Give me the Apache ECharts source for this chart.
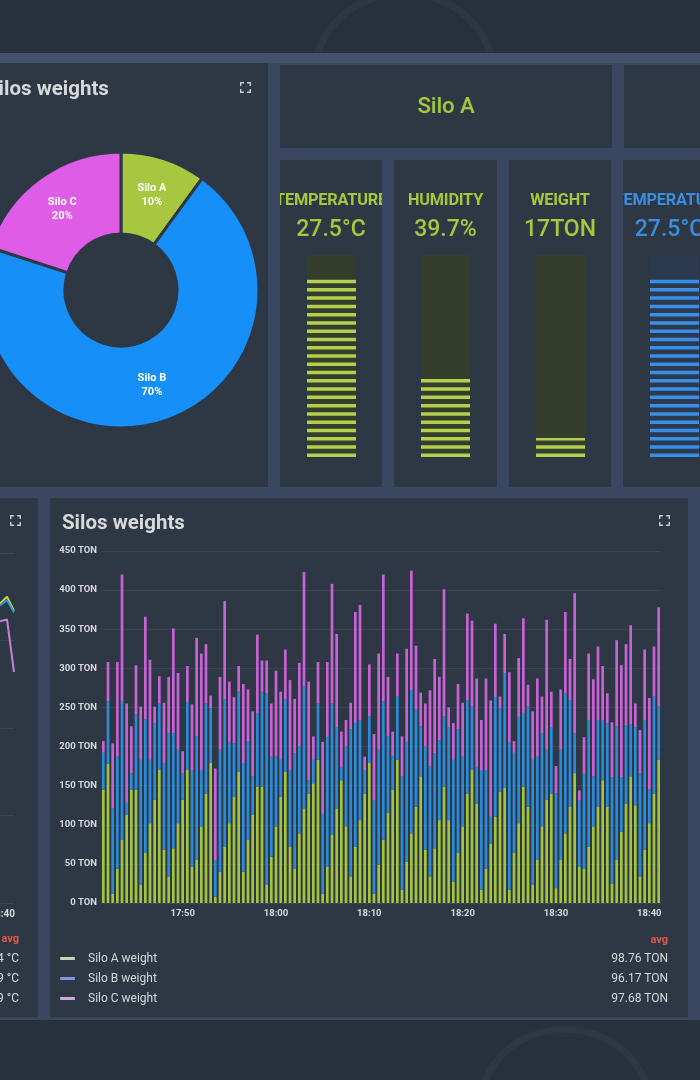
<!DOCTYPE html>
<html>
<head>
<meta charset="utf-8">
<title>Silos dashboard</title>
<script src="https://cdn.jsdelivr.net/npm/echarts@6.0.0/dist/echarts.min.js"></script>
<style>
html,body{margin:0;padding:0;}
body{width:700px;height:1080px;position:relative;overflow:hidden;background:#3a4760;font-family:Roboto,"Noto Sans",sans-serif;}
.abs{position:absolute;}
.panel{position:absolute;background:#2e3744;overflow:hidden;}
.title{position:absolute;color:#d8d9da;font-weight:bold;font-size:20.5px;white-space:nowrap;line-height:22px;}
.fs{position:absolute;width:11px;height:11px;}
.gtitle{position:absolute;left:-20px;right:-20px;top:30px;text-align:center;font-weight:bold;font-size:16.3px;white-space:nowrap;letter-spacing:-0.2px;}
.gval{position:absolute;left:-20px;right:-20px;top:55px;text-align:center;font-weight:500;font-size:23px;white-space:nowrap;}
.leg{position:absolute;font-size:12px;color:#d8d9da;white-space:nowrap;line-height:14px;}
.mark{position:absolute;width:15px;height:3px;border-radius:1px;}
.ring{position:absolute;border:7px solid rgba(255,255,255,0.03);border-radius:50%;}
</style>
</head>
<body>
<div class="abs" style="left:0;top:0;width:700px;height:53px;background:#27303d;overflow:hidden;">
  <div class="ring" style="left:312px;top:-10px;width:170px;height:150px;"></div>
</div>
<div class="abs" style="left:0;top:53px;width:700px;height:10px;background:#43516b;"></div>
<div class="abs" style="left:0;top:1020px;width:700px;height:60px;background:#28313e;overflow:hidden;">
  <div class="ring" style="left:478px;top:6px;width:160px;height:140px;"></div>
</div>

<!-- pie panel -->
<div class="panel" style="left:0;top:63px;width:268px;height:424px;">
  <div id="pie" class="abs" style="left:0;top:0;width:268px;height:424px;"></div>
  <div class="title" style="left:-14px;top:14px;">Silos weights</div>
  <svg class="fs" style="left:240px;top:19px;" viewBox="0 0 11 11"><path d="M0.7 4V0.7H4M7 0.7H10.3V4M10.3 7V10.3H7M4 10.3H0.7V7" fill="none" stroke="#c7ccd3" stroke-width="1.4"/></svg>
</div>

<!-- Silo A header -->
<div class="panel" style="left:280px;top:65px;width:332px;height:83px;">
  <div id="siloName" class="abs" style="left:0;right:0;top:28px;text-align:center;color:#a5c83e;font-size:22px;font-weight:500;"></div>
</div>
<div class="panel" style="left:624px;top:65px;width:76px;height:83px;"></div>

<!-- gauge panels -->
<div id="g0" class="panel" style="left:280px;top:160px;width:102px;height:327px;"></div>
<div id="g1" class="panel" style="left:394px;top:160px;width:103px;height:327px;"></div>
<div id="g2" class="panel" style="left:509px;top:160px;width:102px;height:327px;"></div>
<div id="g3" class="panel" style="left:623px;top:160px;width:77px;height:327px;"></div>

<!-- bottom-left fragment -->
<div class="panel" style="left:0;top:498px;width:38px;height:519px;">
  <div id="frag" class="abs" style="left:0;top:0;width:38px;height:519px;"></div>
  <svg class="fs" style="left:10px;top:17px;" viewBox="0 0 11 11"><path d="M0.7 4V0.7H4M7 0.7H10.3V4M10.3 7V10.3H7M4 10.3H0.7V7" fill="none" stroke="#c7ccd3" stroke-width="1.4"/></svg>
  <div class="leg" style="right:23px;top:409px;font-size:10px;font-weight:bold;">18:40</div>
  <div class="leg" style="right:19px;top:434px;font-size:11px;font-weight:bold;color:#e2574c;">avg</div>
  <div class="leg" style="right:19px;top:453px;">4 °C</div>
  <div class="leg" style="right:19px;top:473px;">9 °C</div>
  <div class="leg" style="right:19px;top:493px;">9 °C</div>
</div>

<!-- bottom bar chart panel -->
<div class="panel" style="left:50px;top:498px;width:638px;height:519px;">
  <div id="bars" class="abs" style="left:0;top:0;width:638px;height:519px;"></div>
  <div class="title" style="left:12px;top:13px;">Silos weights</div>
  <svg class="fs" style="left:609px;top:17px;" viewBox="0 0 11 11"><path d="M0.7 4V0.7H4M7 0.7H10.3V4M10.3 7V10.3H7M4 10.3H0.7V7" fill="none" stroke="#c7ccd3" stroke-width="1.4"/></svg>
  <div id="legend"></div>
</div>

<script>
// ---------- data ----------
const pieNames = ['Silo A', 'Silo B', 'Silo C'];
const pieValues = [10, 70, 20];
const pieColors = ['#a6c73f', '#168ff8', '#df5ce6'];

const siloTitle = 'Silo A';
const gaugeTitles = ['TEMPERATURE', 'HUMIDITY', 'WEIGHT', 'TEMPERATURE'];
const gaugeValues = [27.5, 39.7, 17, 27.5];
const gaugeUnits = ['°C', '%', 'TON', '°C'];
const gaugeMax = [31, 100, 180, 31];
const gaugeColors = ['#a5c83e', '#a5c83e', '#a5c83e', '#3a8ee0'];
const stripeColors = ['#b3d04e', '#b3d04e', '#b3d04e', '#3990e6'];
const gaugeBg = ['#333e2c', '#333e2c', '#333e2c', '#2b3a4f'];

const startTime = '17:41:30';
const stepSeconds = 30;

const siloA = [
  145,178,12,44,81,113,145,145,23,64,
  102,132,170,68,34,70,102,132,170,46,
  55,98,140,179,8,40,72,102,136,168,
  40,81,113,149,149,23,59,98,136,168,72,
  44,89,121,140,153,183,12,46,87,
  121,157,98,34,72,106,140,179,12,49,
  81,115,145,183,17,53,89,123,162,68,
  34,70,106,149,106,27,64,98,140,170,127,17,
  44,76,110,142,147,17,64,102,
  149,123,23,55,98,132,140,19,55,89,
  123,166,46,44,72,98,123,157,123,25,
  55,91,127,162,125,34,68,102,140,183
];
const siloB = [
  47,80,109,143,177,15,21,96,160,171,
  81,98,85,111,183,147,94,34,87,124,
  158,72,115,70,47,156,188,104,68,102,
  139,126,49,94,121,245,128,90,47,92,98,
  147,111,156,17,30,72,102,166,168,
  104,17,102,188,158,128,30,60,119,147,
  177,98,43,81,145,153,183,124,64,132,
  141,121,102,90,119,156,158,90,119,81,47,153,
  126,34,153,107,147,188,128,136,
  94,128,160,132,119,64,85,121,141,179,
  136,51,85,121,162,64,111,77,107,136,
  171,70,100,66,100,132,166,43,124,68
];
const siloC = [
  15,50,83,121,162,127,60,63,68,131,
  128,21,35,77,72,134,98,28,46,84,
  126,149,76,16,117,93,126,77,59,33,
  101,66,83,100,40,42,68,109,87,64,115,
  70,107,146,126,30,53,92,96,153,
  119,45,34,34,142,147,17,66,85,123,
  162,76,31,55,51,119,153,82,43,55,
  97,121,81,162,25,47,58,68,111,110,113,64,
  117,149,94,15,50,90,15,75,
  121,28,62,100,47,166,45,35,77,104,
  53,179,13,47,85,124,94,69,38,70,
  110,143,104,127,30,55,90,117,64,127
];
const seriesNames = ['Silo A weight', 'Silo B weight', 'Silo C weight'];
const barColors = ['#a2c43e', '#2c8bd8', '#c962d6'];
const legendColors = ['#c9d4b4', '#7f97dd', '#d3aadb'];
const legendAvg = ['98.76 TON', '96.17 TON', '97.68 TON'];
const yMin = 0, yMax = 450, yInterval = 50, yUnit = 'TON';

// fragment of the neighbouring temperature panel (only its right end is visible)
const fragTimes = ['18:39', '18:40', '18:41'];
const fragA = [37.1, 37.5, 36.7];
const fragB = [37.0, 37.3, 36.6];
const fragC = [36.1, 36.2, 33.2];
const fragColors = ['#c4d33a', '#2f8ee0', '#c47fd8'];

// ---------- helpers ----------
function pad(n){ return (n < 10 ? '0' : '') + n; }
function buildTimes(start, step, count){
  const p = start.split(':').map(Number);
  const t0 = p[0]*3600 + p[1]*60 + p[2];
  const out = [];
  for (let i = 0; i < count; i++) {
    const t = t0 + i*step;
    out.push(pad(Math.floor(t/3600)) + ':' + pad(Math.floor((t%3600)/60)) + ':' + pad(t%60));
  }
  return out;
}
const categories = buildTimes(startTime, stepSeconds, siloA.length);
const FONT = 'Roboto';

// ---------- pie ----------
const pie = echarts.init(document.getElementById('pie'));
pie.setOption({
  animation: false,
  series: [{
    type: 'pie',
    center: [121, 227],
    radius: [56, 138],
    startAngle: 90,
    clockwise: true,
    silent: true,
    itemStyle: { borderColor: '#2e3744', borderWidth: 3 },
    label: {
      show: true, position: 'inside', formatter: '{b}\n{d}%',
      color: '#ffffff', fontSize: 11, fontWeight: 'bold', lineHeight: 14, fontFamily: FONT
    },
    labelLine: { show: false },
    data: pieNames.map((n, i) => ({ name: n, value: pieValues[i], itemStyle: { color: pieColors[i] } }))
  }]
});

document.getElementById('siloName').textContent = siloTitle;

// ---------- gauges ----------
gaugeTitles.forEach((t, i) => {
  const panel = document.getElementById('g' + i);
  const chartDiv = document.createElement('div');
  chartDiv.className = 'abs';
  chartDiv.style.cssText = 'left:0;top:0;width:103px;height:327px;';
  panel.appendChild(chartDiv);
  const tt = document.createElement('div');
  tt.className = 'gtitle'; tt.style.color = gaugeColors[i]; tt.textContent = t;
  if (i === 3) { tt.style.left = '-25px'; tt.style.right = '-41px'; }
  panel.appendChild(tt);
  const tv = document.createElement('div');
  tv.className = 'gval'; tv.style.color = gaugeColors[i]; tv.textContent = gaugeValues[i] + gaugeUnits[i];
  if (i === 3) { tv.style.left = '-25px'; tv.style.right = '-41px'; }
  panel.appendChild(tv);

  const c = echarts.init(chartDiv);
  c.setOption({
    animation: false,
    grid: { left: 27, top: 95, width: 49, height: 202 },
    xAxis: { type: 'category', data: [t], show: false },
    yAxis: { type: 'value', min: 0, max: gaugeMax[i], show: false },
    series: [
      { type: 'bar', data: [gaugeMax[i]], barWidth: 49, silent: true, itemStyle: { color: gaugeBg[i] }, z: 1 },
      { type: 'pictorialBar', data: [gaugeValues[i]], symbol: 'rect', symbolRepeat: true,
        symbolSize: [49, 3.5], symbolMargin: 2.5, symbolClip: true, symbolBoundingData: gaugeMax[i],
        silent: true, itemStyle: { color: stripeColors[i] }, z: 2 }
    ]
  });
});

// ---------- fragment chart ----------
const frag = echarts.init(document.getElementById('frag'));
frag.setOption({
  animation: false,
  grid: { left: 0, top: 55, width: 14, height: 350 },
  xAxis: { type: 'category', data: fragTimes, boundaryGap: false, show: false },
  yAxis: { type: 'value', min: 20, max: 40, interval: 5, axisLabel: { show: false },
    axisLine: { show: false }, axisTick: { show: false },
    splitLine: { lineStyle: { color: '#3b4552' } } },
  series: [fragA, fragB, fragC].map((d, i) => ({
    type: 'line', data: d, symbol: 'none', silent: true,
    lineStyle: { color: fragColors[i], width: 2 }
  }))
});

// ---------- stacked bars ----------
const bars = echarts.init(document.getElementById('bars'));
const labelStyle = { color: '#d8d9da', fontSize: 9.5, fontWeight: 'bold', fontFamily: FONT };
bars.setOption({
  animation: false,
  grid: { left: 51, right: 27, top: 53, bottom: 114 },
  xAxis: {
    type: 'category', data: categories,
    axisLine: { show: false }, axisTick: { show: false },
    axisLabel: Object.assign({
      margin: 6,
      interval: (idx, val) => val.endsWith(':00') && Number(val.slice(3, 5)) % 10 === 0,
      formatter: v => v.slice(0, 5)
    }, labelStyle)
  },
  yAxis: {
    type: 'value', min: yMin, max: yMax, interval: yInterval,
    axisLine: { show: false }, axisTick: { show: false },
    axisLabel: Object.assign({ margin: 4, formatter: '{value} ' + yUnit }, labelStyle),
    splitLine: { lineStyle: { color: '#3b4552', width: 1 } }
  },
  series: [siloA, siloB, siloC].map((d, i) => ({
    name: seriesNames[i], type: 'bar', stack: 'total', data: d, barWidth: 2.7,
    silent: true, itemStyle: { color: barColors[i] }
  }))
});

// ---------- legend ----------
const leg = document.getElementById('legend');
let html = '<div class="leg" style="right:20px;top:435px;font-size:11px;font-weight:bold;color:#e2574c;">avg</div>';
seriesNames.forEach((n, i) => {
  const top = 453 + i*20;
  html += '<div class="mark" style="left:10px;top:' + (top + 6) + 'px;background:' + legendColors[i] + ';"></div>';
  html += '<div class="leg" style="left:38px;top:' + top + 'px;">' + n + '</div>';
  html += '<div class="leg" style="right:20px;top:' + top + 'px;">' + legendAvg[i] + '</div>';
});
leg.innerHTML = html;
</script>
</body>
</html>
